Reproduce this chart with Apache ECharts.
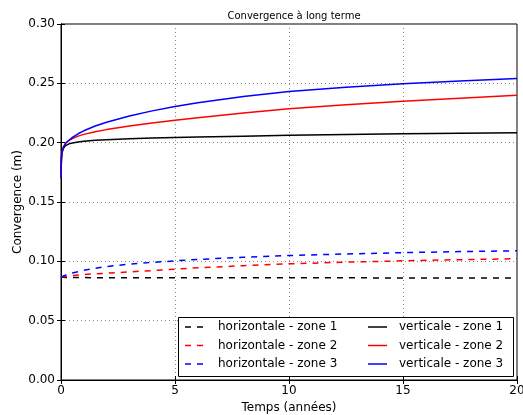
<!DOCTYPE html>
<html>
<head>
<meta charset="utf-8">
<script src="https://cdn.jsdelivr.net/npm/echarts@6/dist/echarts.min.js"></script>
<style>
  html, body { margin: 0; padding: 0; background: #fff; }
  #chart { width: 523px; height: 415px; }
</style>
</head>
<body>
<div id="chart"></div>
<script>
// temps (années)
const times = [0, 0.02, 0.05, 0.1, 0.2, 0.35, 0.5, 0.75, 1, 1.5, 2, 3, 4, 5, 6, 8, 10, 12.5, 15, 17.5, 20];

// convergence (m)
const horizZone1 = [0.0868, 0.0867, 0.0866, 0.0865, 0.0864, 0.0864, 0.0863, 0.0863, 0.0863, 0.0862, 0.0862, 0.0862, 0.0862, 0.0862, 0.0862, 0.0861, 0.0861, 0.0861, 0.0860, 0.0860, 0.0860];
const horizZone2 = [0.0865, 0.0866, 0.0868, 0.0870, 0.0873, 0.0877, 0.0880, 0.0885, 0.0889, 0.0895, 0.0900, 0.0911, 0.0922, 0.0934, 0.0946, 0.0963, 0.0979, 0.0993, 0.1004, 0.1014, 0.1022];
const horizZone3 = [0.0865, 0.0868, 0.0872, 0.0876, 0.0884, 0.0893, 0.0901, 0.0913, 0.0924, 0.0942, 0.0956, 0.0976, 0.0991, 0.1004, 0.1016, 0.1034, 0.1049, 0.1062, 0.1073, 0.1082, 0.1089];
const vertZone1 = [0.175, 0.188, 0.1920, 0.1950, 0.1975, 0.1990, 0.1998, 0.2006, 0.2012, 0.2020, 0.2025, 0.2033, 0.2039, 0.2044, 0.2048, 0.2055, 0.2062, 0.2069, 0.2075, 0.2080, 0.2084];
const vertZone2 = [0.172, 0.187, 0.1925, 0.1960, 0.1995, 0.2020, 0.2035, 0.2055, 0.2070, 0.2092, 0.2110, 0.2140, 0.2166, 0.2189, 0.2210, 0.2251, 0.2286, 0.2320, 0.2349, 0.2375, 0.2399];
const vertZone3 = [0.170, 0.186, 0.1920, 0.1960, 0.1995, 0.2020, 0.2045, 0.2075, 0.2100, 0.2140, 0.2172, 0.2225, 0.2268, 0.2305, 0.2337, 0.2390, 0.2431, 0.2467, 0.2496, 0.2520, 0.2540];

const font = "DejaVu Sans";

function pairs(arr) {
  return times.map((t, i) => [t, arr[i]]);
}

function mkSeries(name, arr, color, dashed) {
  return {
    name: name,
    type: "line",
    data: pairs(arr),
    symbol: "none",
    color: color,
    lineStyle: { width: 1.5, color: color, type: dashed ? [6, 6] : "solid" },
    emphasis: { disabled: true }
  };
}

const chart = echarts.init(document.getElementById("chart"));

const option = {
  backgroundColor: "#FFFFFF",
  animation: false,
  title: {
    text: "Convergence à long terme",
    left: 289,
    textAlign: "center",
    top: 6,
    textStyle: { fontFamily: font, fontSize: 10, fontWeight: "normal", color: "#000" }
  },
  grid: {
    left: 61,
    right: 6,
    top: 24,
    bottom: 35,
    outerBoundsMode: "none",
    show: true,
    borderColor: "#000",
    borderWidth: 1
  },
  legend: [
    {
      orient: "vertical",
      left: 185,
      top: 321,
      padding: 0,
      itemGap: 6.5,
      itemWidth: 18,
      itemHeight: 12,
      icon: "path://M0,0h6v1.5h-6z M12,0h6v1.5h-6z",
      data: ["horizontale - zone 1", "horizontale - zone 2", "horizontale - zone 3"],
      textStyle: { fontFamily: font, fontSize: 12, color: "#000", padding: [0, 0, 0, 10] }
    },
    {
      orient: "vertical",
      left: 368,
      top: 321,
      padding: 0,
      itemGap: 6.5,
      itemWidth: 19,
      itemHeight: 12,
      icon: "path://M0,0h19v1.5h-19z",
      data: ["verticale - zone 1", "verticale - zone 2", "verticale - zone 3"],
      textStyle: { fontFamily: font, fontSize: 12, color: "#000", padding: [0, 0, 0, 7] }
    }
  ],
  graphic: [
    {
      type: "rect",
      shape: { x: 178.5, y: 317.5, width: 335, height: 59 },
      style: { fill: "#fff", stroke: "#000", lineWidth: 1 },
      z: 3
    }
  ],
  xAxis: [
    {
      type: "value",
      min: 0,
      max: 20,
      interval: 5,
      name: "Temps (années)",
      nameLocation: "middle",
      nameGap: 20,
      nameTextStyle: { fontFamily: font, fontSize: 12, color: "#000" },
      axisLine: { lineStyle: { color: "#000" } },
      axisTick: { inside: true, length: 4, lineStyle: { color: "#000" } },
      axisLabel: { fontFamily: font, fontSize: 12, color: "#000", margin: 5 },
      splitLine: { show: true, lineStyle: { color: "#888", type: [1, 3] } }
    },
    {
      type: "value",
      position: "top",
      min: 0,
      max: 20,
      interval: 5,
      axisLine: { lineStyle: { color: "#000" } },
      axisTick: { inside: true, length: 4, lineStyle: { color: "#000" } },
      axisLabel: { show: false },
      splitLine: { show: false }
    }
  ],
  yAxis: [
    {
      type: "value",
      min: 0,
      max: 0.3,
      interval: 0.05,
      name: "Convergence (m)",
      nameLocation: "middle",
      nameGap: 37,
      nameMoveOverlap: false,
      nameTextStyle: { fontFamily: font, fontSize: 12, color: "#000" },
      axisLine: { lineStyle: { color: "#000" } },
      axisTick: { inside: true, length: 4, lineStyle: { color: "#000" } },
      axisLabel: {
        fontFamily: font,
        fontSize: 12,
        color: "#000",
        margin: 6,
        formatter: (v) => v.toFixed(2)
      },
      splitLine: { show: true, lineStyle: { color: "#888", type: [1, 3] } }
    },
    {
      type: "value",
      position: "right",
      min: 0,
      max: 0.3,
      interval: 0.05,
      axisLine: { lineStyle: { color: "#000" } },
      axisTick: { inside: true, length: 4, lineStyle: { color: "#000" } },
      axisLabel: { show: false },
      splitLine: { show: false }
    }
  ],
  series: [
    mkSeries("horizontale - zone 1", horizZone1, "#000000", true),
    mkSeries("horizontale - zone 2", horizZone2, "#ff0000", true),
    mkSeries("horizontale - zone 3", horizZone3, "#0000ff", true),
    mkSeries("verticale - zone 1", vertZone1, "#000000", false),
    mkSeries("verticale - zone 2", vertZone2, "#ff0000", false),
    mkSeries("verticale - zone 3", vertZone3, "#0000ff", false)
  ]
};

chart.setOption(option);
</script>
</body>
</html>
